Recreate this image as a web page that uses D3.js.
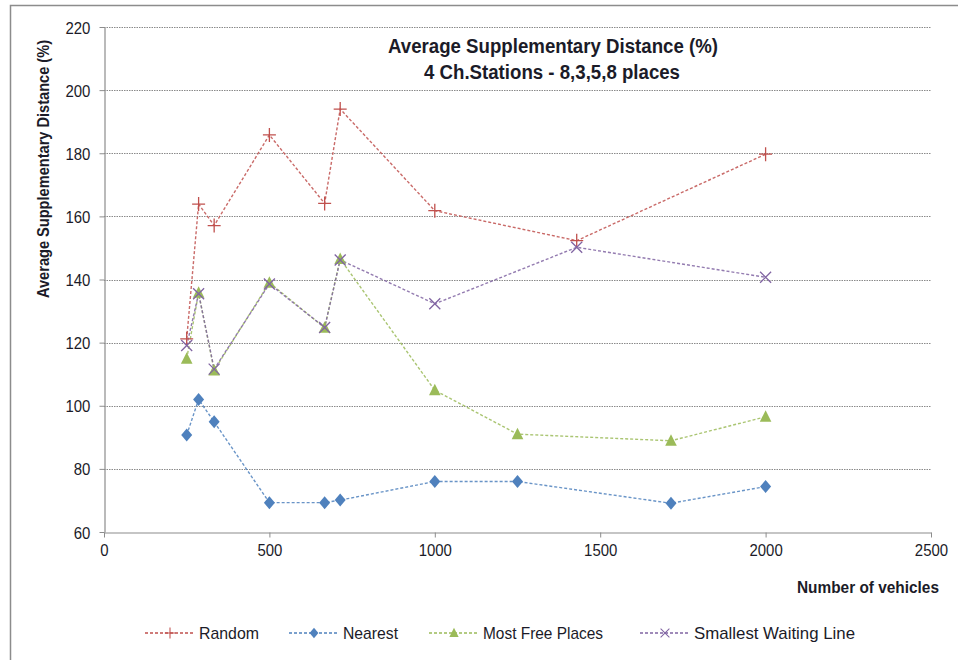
<!DOCTYPE html>
<html><head><meta charset="utf-8">
<script src="https://cdn.jsdelivr.net/npm/d3@7"></script>
<style>
body{margin:0;background:#fff;}
text{font-family:"Liberation Sans",Arial,sans-serif;fill:#1b1b28;}
</style></head><body>
<svg id="c" width="958" height="660"></svg>
<script>
const seriesNames = ["Random","Nearest","Most Free Places","Smallest Waiting Line"];
const colors = ["#C0504D","#4F81BD","#9BBB59","#8064A2"];
const randomX = [250,286,333,500,667,714,1000,1429,2000];
const randomY = [121.2,163.9,157.1,185.8,164.1,194,161.8,152.3,179.7];
const nearestX = [250,286,333,500,667,714,1000,1250,1714,2000];
const nearestY = [90.7,102,94.9,69.3,69.3,70.1,76,76,69.1,74.4];
const mfpX = [250,286,333,500,667,714,1000,1250,1714,2000];
const mfpY = [114.9,135.8,111.2,139,124.7,146.5,104.9,91,88.9,96.5];
const swlX = [250,286,333,500,667,714,1000,1429,2000];
const swlY = [119.1,135.5,111.6,138.6,124.8,146.2,132.3,150.2,140.7];
const xTicks = [0,500,1000,1500,2000,2500];
const yTicks = [60,80,100,120,140,160,180,200,220];
const titleLines = ["Average Supplementary Distance (%)","4 Ch.Stations - 8,3,5,8  places"];
const yTitle = "Average Supplementary Distance (%)";
const xTitle = "Number of vehicles";

const data = [
  {name:seriesNames[0],x:randomX,y:randomY,sym:"plus"},
  {name:seriesNames[1],x:nearestX,y:nearestY,sym:"diamond"},
  {name:seriesNames[2],x:mfpX,y:mfpY,sym:"triangle"},
  {name:seriesNames[3],x:swlX,y:swlY,sym:"cross"}
];

const svg = d3.select("#c");
svg.append("rect").attr("x",10.5).attr("y",5.5).attr("width",1000).attr("height",1000)
  .attr("fill","none").attr("stroke","#8c8c8c").attr("stroke-width",1.5);

const L=104,R=931,T=27,B=532;
const x = d3.scaleLinear().domain([0,2500]).range([L,R]);
const y = d3.scaleLinear().domain([60,220]).range([B,T]);

svg.append("g").selectAll("line").data(yTicks.filter(v=>v>60)).join("line")
  .attr("x1",L).attr("x2",R).attr("y1",d=>Math.round(y(d))+0.5).attr("y2",d=>Math.round(y(d))+0.5)
  .attr("stroke","#8a8a8a").attr("stroke-width",1).attr("stroke-dasharray","1.5,1");

const gx = svg.append("g").attr("transform",`translate(0,${B+0.5})`)
  .call(d3.axisBottom(x).tickValues(xTicks).tickFormat(d3.format("d")).tickSize(5).tickPadding(6).tickSizeOuter(0));
const gy = svg.append("g").attr("transform",`translate(${L+0.5},0)`)
  .call(d3.axisLeft(y).tickValues(yTicks).tickFormat(d3.format("d")).tickSize(5).tickPadding(11).tickSizeOuter(0));
[gx,gy].forEach(g=>{
  g.select(".domain").attr("stroke","#8c8c8c").attr("stroke-width",1.2);
  g.selectAll(".tick line").attr("stroke","#8c8c8c");
  g.selectAll(".tick text").attr("font-size",17).attr("font-family",'"Liberation Sans",Arial,sans-serif')
    .attr("fill","#1b1b28").attr("transform","scale(0.88,1)");
});
gy.selectAll(".tick text").attr("dy","0.36em");
gx.selectAll(".tick text").attr("dy","0.75em");

function drawSym(g,sym,color){
  if(sym==="plus"){
    g.append("path").attr("d","M-6.5,0H6.5M0,-7V7").attr("stroke",color).attr("stroke-width",1.3).attr("fill","none");
  } else if(sym==="cross"){
    g.append("path").attr("d","M-5.5,-5.5L5.5,5.5M-5.5,5.5L5.5,-5.5").attr("stroke",color).attr("stroke-width",1.3).attr("fill","none");
  } else if(sym==="diamond"){
    g.append("path").attr("d","M0,-6.5L5.5,0L0,6.5L-5.5,0Z").attr("fill",color);
  } else if(sym==="triangle"){
    g.append("path").attr("d","M0,-6.5L5.8,5L-5.8,5Z").attr("fill",color);
  }
}

const line = d3.line().x(d=>x(d[0])).y(d=>y(d[1]));
const plot = svg.append("g");
data.forEach((s,i)=>{
  const pts = s.x.map((v,j)=>[v,s.y[j]]);
  plot.append("path").attr("d",line(pts)).attr("fill","none").attr("stroke",colors[i])
    .attr("stroke-width",1.4).attr("stroke-dasharray","3,2").attr("opacity",0.85);
});
data.forEach((s,i)=>{
  s.x.forEach((v,j)=>{
    const g = plot.append("g").attr("transform",`translate(${x(v)},${y(s.y[j])})`);
    drawSym(g,s.sym,colors[i]);
  });
});

function fitText(sel,w){ sel.attr("textLength",w).attr("lengthAdjust","spacingAndGlyphs"); }

fitText(svg.append("text").attr("x",553).attr("y",53).attr("text-anchor","middle").attr("font-size",20).attr("font-weight","bold").text(titleLines[0]),330);
fitText(svg.append("text").attr("x",552).attr("y",79).attr("text-anchor","middle").attr("font-size",20).attr("font-weight","bold").text(titleLines[1]),256);

fitText(svg.append("text").attr("transform","translate(49,169) rotate(-90)").attr("text-anchor","middle")
  .attr("font-size",16).attr("font-weight","bold").text(yTitle),258);
fitText(svg.append("text").attr("x",939).attr("y",593).attr("text-anchor","end")
  .attr("font-size",16).attr("font-weight","bold").text(xTitle),142);

const legX = [145,289,429,640];
const legW = [60,55,120,161];
data.forEach((s,i)=>{
  const g = svg.append("g").attr("transform",`translate(${legX[i]},633)`);
  g.append("line").attr("x1",0).attr("x2",49).attr("y1",0).attr("y2",0).attr("stroke",colors[i])
    .attr("stroke-width",1.3).attr("stroke-dasharray","3,2");
  const sg = g.append("g").attr("transform","translate(25,0) scale(0.8)");
  drawSym(sg,s.sym,colors[i]);
  fitText(g.append("text").attr("x",54).attr("y",0).attr("dy","0.36em").attr("font-size",17).text(s.name),legW[i]);
});
</script></body></html>
